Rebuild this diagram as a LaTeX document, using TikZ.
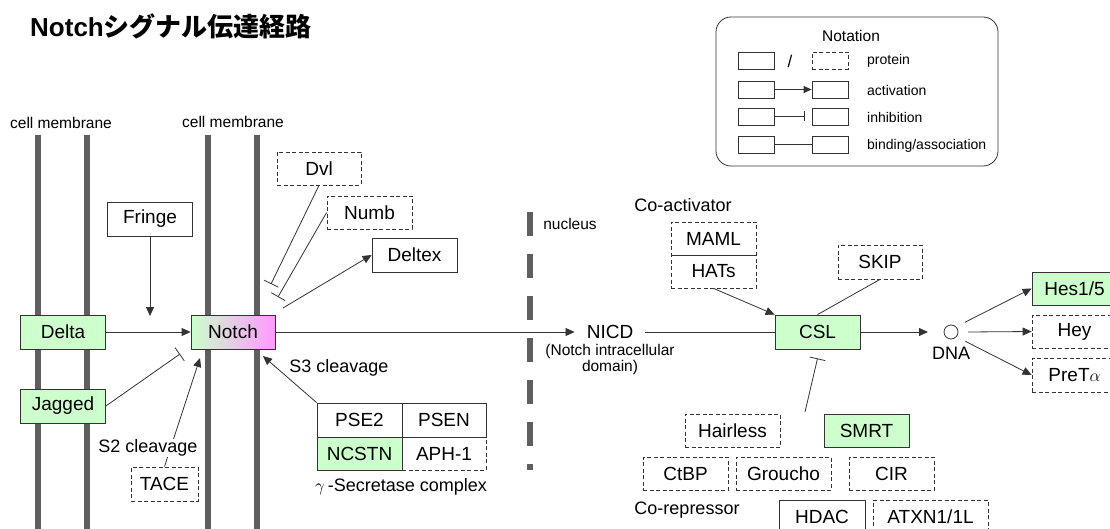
\documentclass[tikz,border=0pt]{standalone}
\usepackage{fontspec}
\setmainfont{Liberation Sans}
\newfontfamily\jpfont{Noto Sans CJK JP}
\usetikzlibrary{arrows.meta,calc}
\definecolor{lgreen}{HTML}{CCFFCC}
\definecolor{pinkm}{HTML}{FF99FF}
\definecolor{edge}{HTML}{333333}
\definecolor{memb}{HTML}{5F5F5F}
\definecolor{conn}{HTML}{333333}
\begin{document}
\begin{tikzpicture}[x=1pt,y=-1pt,
  box/.style={draw=edge, line width=0.8pt, minimum width=85pt, minimum height=34pt, inner sep=0pt, font=\fontsize{19}{22}\selectfont},
  dbox/.style={box, dash pattern=on 4pt off 2.5pt},
  gbox/.style={box, fill=lgreen},
  act/.style={draw=conn, line width=0.8pt, -{Triangle[length=9pt,width=8pt]}},
  inh/.style={draw=conn, line width=0.8pt, -{Bar[width=16pt,line width=0.8pt]}},
  bind/.style={draw=conn, line width=0.8pt},
  lbl/.style={font=\fontsize{18}{21}\selectfont, inner sep=1pt},
  slbl/.style={font=\fontsize{15.5}{18}\selectfont, inner sep=1pt},
  nbox/.style={draw=edge, line width=0.8pt, minimum width=36pt, minimum height=17pt, inner sep=0pt},
  ntxt/.style={anchor=west, font=\fontsize{14}{16}\selectfont, inner sep=0pt},
  membar/.style={draw=memb, line width=6pt}
]
\useasboundingbox (0,0) rectangle (1110,529);

% title
\node[anchor=base west, inner sep=0pt, font=\fontsize{26}{30}\selectfont\bfseries] (title) at (30,37) {Notch{\jpfont\bfseries シグナル伝達経路}};

% membranes
\foreach \mx in {38,87,208,257} \draw[membar] (\mx,135) -- (\mx,529);
\draw[membar, dash pattern=on 24pt off 18pt] (530,212) -- (530,470);
\node[slbl] (cm1) at (61,123) {cell membrane};
\node[slbl] (cm2) at (233,122) {cell membrane};
\node[slbl] (nuc) at (570,224) {nucleus};

% notation
\node[draw=edge, line width=0.8pt, rounded corners=15pt, minimum width=282pt, minimum height=149pt] (notbox) at (857,91.5) {};
\node[font=\fontsize{15.5}{18}\selectfont, inner sep=0pt] (nottitle) at (851,36) {Notation};
\node[nbox] (n1a) at (756,60.5) {};
\node[font=\fontsize{17}{18}\selectfont, inner sep=0pt] (slash) at (790,61) {/};
\node[nbox, dash pattern=on 4pt off 2.5pt] (n1b) at (830,60.5) {};
\node[nbox] (n2a) at (756,89.5) {};
\node[nbox] (n2b) at (830,89.5) {};
\node[nbox] (n3a) at (756,116.5) {};
\node[nbox] (n3b) at (830,116.5) {};
\node[nbox] (n4a) at (756,144.5) {};
\node[nbox] (n4b) at (830,144.5) {};
\draw[draw=conn, line width=0.8pt, -{Triangle[length=8pt,width=7pt]}] (n2a) -- (n2b);
\draw[draw=conn, line width=0.8pt, -{Bar[width=10pt,line width=0.8pt]}, shorten >=7pt] (n3a) -- (n3b);
\draw[bind] (n4a) -- (n4b);
\node[ntxt] (t1) at (867,61) {protein};
\node[ntxt] (t2) at (867,90) {activation};
\node[ntxt] (t3) at (867,117) {inhibition};
\node[ntxt] (t4) at (867,146) {binding/association};

% nodes left
\node[gbox] (delta) at (63,332) {Delta};
\node[gbox] (jagged) at (63,406) {Jagged};
\node[box, fill=white] (fringe) at (150,219) {Fringe};
\node[box, minimum width=84pt, left color=lgreen, right color=pinkm] (notch) at (233,332) {Notch};
\node[dbox, minimum width=67pt] (tace) at (164.5,484) {TACE};
\node[dbox, minimum width=84pt, minimum height=33pt] (dvl) at (319,168.5) {Dvl};
\node[dbox, minimum height=33pt] (numb) at (369.5,212.5) {Numb};
\node[box] (deltex) at (414.5,255) {Deltex};

% gamma secretase complex
\node[dbox, minimum width=84pt, minimum height=33pt] (aph) at (444,453.5) {APH-1};
\node[box] (pse2) at (359.5,420) {PSE2};
\node[box, minimum width=84pt] (psen) at (444,420) {PSEN};
\node[gbox, minimum height=33pt] (ncstn) at (359.5,453.5) {NCSTN};
\node[lbl] (gsc) at (401,487) {$\gamma$\,-Secretase complex};

% nucleus part
\node[font=\fontsize{19}{22}\selectfont, inner xsep=12pt, inner ysep=2pt] (nicd) at (610,332) {NICD};
\node[slbl, align=center, font=\fontsize{15.5}{16}\selectfont] (nicdl) at (610,359) {(Notch intracellular\\domain)};
\node[lbl] (coact) at (683,205) {Co-activator};
\node[dbox, minimum height=33pt] (maml) at (713.5,238.5) {MAML};
\node[dbox, minimum height=33pt] (hats) at (713.5,271.5) {HATs};
\node[gbox] (csl) at (817.5,332) {CSL};
\node[dbox, minimum width=84pt] (skip) at (880,262) {SKIP};
\node[draw=edge, line width=0.8pt, circle, minimum size=14pt, inner sep=0pt, outer sep=10pt] (dna) at (951,332) {};
\node[font=\fontsize{18}{20}\selectfont, inner sep=0pt] (dnal) at (951,353) {DNA};
\node[gbox, minimum height=33pt] (hes) at (1074.5,288.5) {Hes1/5};
\node[dbox, minimum height=33pt] (hey) at (1074.5,331.5) {Hey};
\node[dbox] (pret) at (1074.5,375) {PreT$\alpha$};

% co-repressor
\node[dbox, minimum width=95pt, minimum height=33pt] (hairless) at (732.5,430.5) {Hairless};
\node[gbox, minimum height=33pt] (smrt) at (866.5,430.5) {SMRT};
\node[dbox, minimum height=33pt] (ctbp) at (685.5,473.5) {CtBP};
\node[dbox, minimum width=95pt, minimum height=33pt] (groucho) at (783.5,473.5) {Groucho};
\node[dbox, minimum height=33pt] (cir) at (891.5,473.5) {CIR};
\node[lbl] (corep) at (687,510) {Co-repressor};
\node[box, minimum width=86pt] (hdac) at (822,517) {HDAC};
\node[dbox, minimum width=115pt] (atxn) at (930.5,517) {ATXN1/1L};

% free ends
\coordinate (fringeEnd) at (150,316);
\coordinate (jagEnd) at (180,354);
\coordinate (taceEnd) at (200,358);
\coordinate (dvlEnd) at (271,284);
\coordinate (numbEnd) at (278,297);
\coordinate (deltexStart) at (283,308);
\coordinate (s3End) at (263,356);
\coordinate (repStart) at (805,412);

% connectors
\draw[act] (fringe) -- (fringeEnd);
\draw[act] (delta) -- (notch);
\draw[inh] (jagged.east) -- (jagEnd);
\draw[act] (tace.north) -- (taceEnd);
\node[lbl, fill=white, inner sep=0.5pt] (s2) at (148,448) {S2 cleavage};
\draw[inh] (dvl.south) -- (dvlEnd);
\draw[inh] (numb.west) -- (numbEnd);
\draw[act] (deltexStart) -- (deltex.west);
\draw[act] (pse2.north west) -- (s3End);
\node[lbl] (s3) at (339,368) {S3 cleavage};
\draw[act] (notch.east) -- (nicd.west);
\draw[bind] (nicd.east) -- (csl.west);
\draw[act] (hats.south) -- (csl.north west);
\draw[bind] (skip.south) -- (csl.north);
\draw[act, shorten >=6pt] (csl.east) -- (dna.west);
\draw[act] (dna.35) -- (hes.west);
\draw[act] (dna.east) -- (hey.west);
\draw[act] (dna.-33) -- (pret.west);
\draw[inh] (repStart) -- ([yshift=-9pt]csl.south);
\end{tikzpicture}
\end{document}
